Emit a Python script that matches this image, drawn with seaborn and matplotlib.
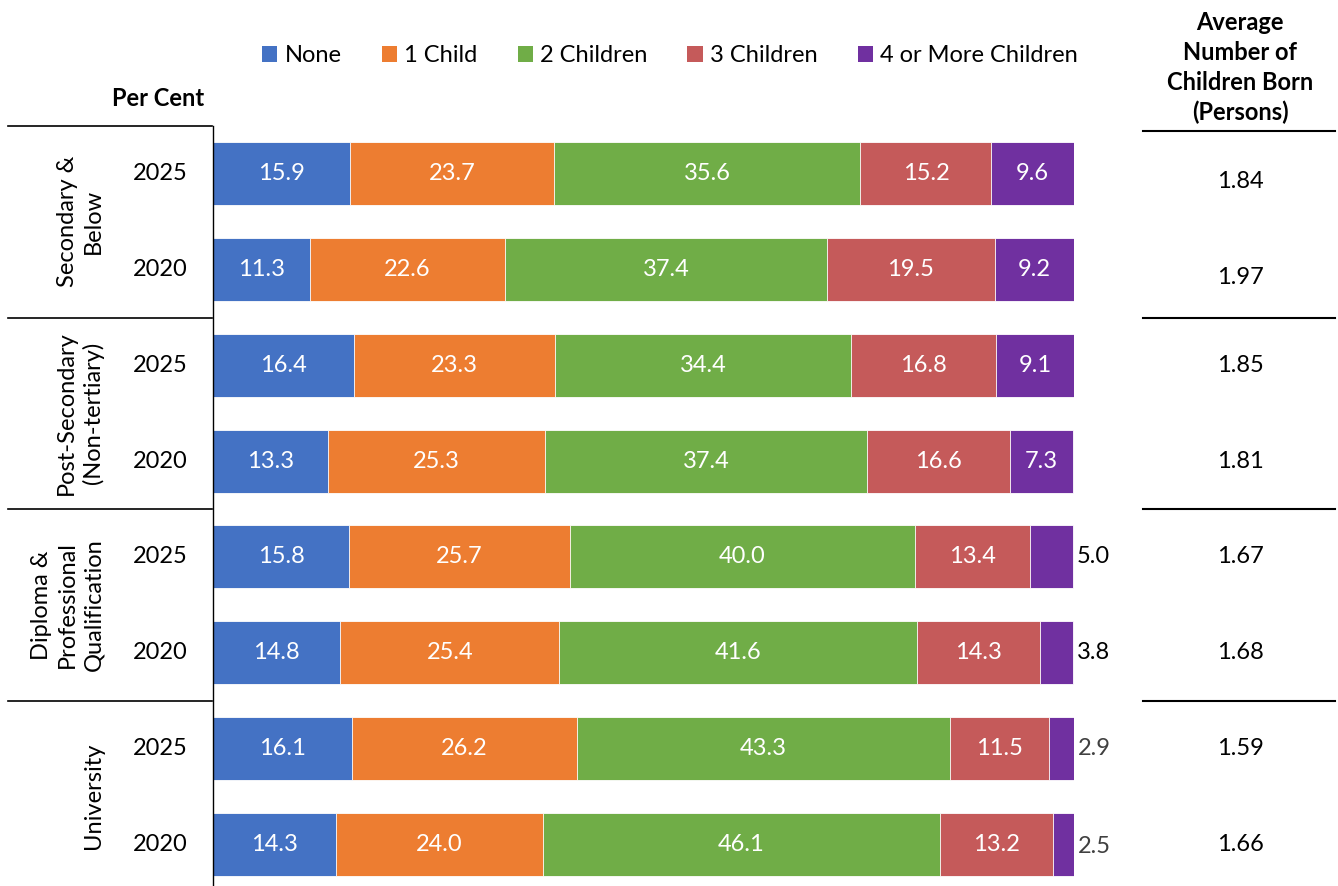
import numpy as np
import pandas as pd
import matplotlib.pyplot as plt
import seaborn as sns
from matplotlib.patches import Patch
from matplotlib.transforms import blended_transform_factory

# data
groups = ["Secondary &\nBelow", "Post-Secondary\n(Non-tertiary)",
          "Diploma &\nProfessional\nQualification", "University"]
years = ["2025", "2020"]
categories = ["None", "1 Child", "2 Children", "3 Children", "4 or More Children"]
none_pct = [15.9, 11.3, 16.4, 13.3, 15.8, 14.8, 16.1, 14.3]
one_pct = [23.7, 22.6, 23.3, 25.3, 25.7, 25.4, 26.2, 24.0]
two_pct = [35.6, 37.4, 34.4, 37.4, 40.0, 41.6, 43.3, 46.1]
three_pct = [15.2, 19.5, 16.8, 16.6, 13.4, 14.3, 11.5, 13.2]
four_pct = [9.6, 9.2, 9.1, 7.3, 5.0, 3.8, 2.9, 2.5]
avg_children = [1.84, 1.97, 1.85, 1.81, 1.67, 1.68, 1.59, 1.66]

colors = ["#4472C4", "#ED7D31", "#70AD47", "#C55A5A", "#7030A0"]

W, H = 1338, 886
FS = 17
plt.rcParams['font.family'] = ['Lato', 'DejaVu Sans']
fig = plt.figure(figsize=(W / 100, H / 100), dpi=100)
ax = fig.add_axes([213 / W, -6 / H, (1074 - 213) / W, 1 - 120 / H])

rows = [f"{g}|{y}" for g in groups for y in years]
series = [none_pct, one_pct, two_pct, three_pct, four_pct]
cum = np.cumsum(np.array(series), axis=0)
df = pd.DataFrame({"row": rows})
for i, c in enumerate(categories):
    df[c] = cum[i]

# stacked bars: draw cumulative totals from the outermost layer inwards
for i in range(len(categories) - 1, -1, -1):
    sns.barplot(data=df, x=categories[i], y="row", color=colors[i], width=0.66,
                edgecolor="white", linewidth=0.6, saturation=1, ax=ax, orient="h")

ax.set_xlim(0, 100)
ax.set_ylim(7.5, -0.5)
ax.set_xlabel("")
ax.set_ylabel("")
ax.set_xticks([])
ax.set_yticks([])
for s in ["top", "right", "bottom"]:
    ax.spines[s].set_visible(False)
ax.spines["left"].set_linewidth(1.0)
ax.spines["left"].set_color("black")

# segment labels
for r in range(len(rows)):
    start = 0
    for i, vals in enumerate(series):
        v = vals[r]
        if v >= 6:
            ax.text(start + v / 2, r, f"{v:.1f}", ha="center", va="center",
                    color="white", fontsize=FS)
        else:
            col = "#404040" if r >= 6 else "black"
            ax.text(start + v + 0.4, r + (0.03 if r == 7 else 0), f"{v:.1f}",
                    ha="left", va="center", color=col, fontsize=FS)
        start += v

fx = blended_transform_factory(fig.transFigure, ax.transData)

# year labels and group labels
for r, row in enumerate(rows):
    ax.text(160 / W, r, row.split("|")[1], transform=fx, ha="center",
            va="center", fontsize=FS)
for g, name in enumerate(groups):
    ax.text(104 / W, 2 * g + 0.5, name, transform=fx, rotation=90, ha="right",
            va="center", multialignment="center", fontsize=FS, linespacing=1.3)

# separator lines
for b in [-0.5, 1.5, 3.5, 5.5]:
    ax.plot([8 / W, 212 / W], [b, b], transform=fx, color="black", lw=1.2,
            clip_on=False)
for b in [1.5, 3.5, 5.5]:
    ax.plot([1143 / W, 1335 / W], [b, b], transform=fx, color="black", lw=1.5,
            clip_on=False)
fig.lines.append(plt.Line2D([1143 / W, 1335 / W], [1 - 131 / H, 1 - 131 / H],
                            transform=fig.transFigure, color="black", lw=1.5))

# average column
for r, v in enumerate(avg_children):
    ax.text(1240 / W, r + (0.08 if r < 2 else 0), f"{v:.2f}", transform=fx,
            ha="center", va="center", fontsize=FS)
fig.text(1240 / W, 1 - 124 / H, "Average\nNumber of\nChildren Born\n(Persons)",
         ha="center", va="bottom", fontsize=FS, fontweight="bold", linespacing=1.35)

fig.text(158 / W, 1 - 99 / H, "Per Cent", ha="center", va="center",
         fontsize=FS, fontweight="bold")

handles = [Patch(facecolor=c, label=l) for c, l in zip(colors, categories)]
fig.legend(handles=handles, loc="center", bbox_to_anchor=(670 / W, 1 - 56 / H),
           ncol=5, frameon=False, fontsize=FS, handlelength=0.65, handleheight=0.65,
           handletextpad=0.3, columnspacing=1.7)

fig.savefig("out.png", dpi=100)
